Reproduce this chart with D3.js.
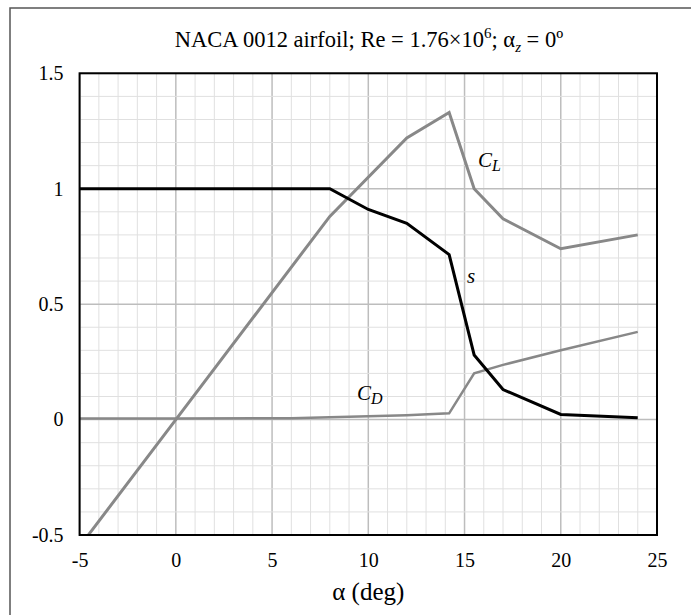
<!DOCTYPE html>
<html>
<head>
<meta charset="utf-8">
<script src="https://cdn.jsdelivr.net/npm/d3@7"></script>
<style>
  html, body { margin: 0; padding: 0; background: #fff; }
  svg { display: block; }
  svg text { font-family: "Liberation Serif", "Times New Roman", serif !important; fill: #000; }
</style>
</head>
<body>
<svg id="chart" width="691" height="615"></svg>
<script>
// Angle of attack (deg) and measured coefficients
const alphaCL = [-5, 0, 8, 12, 14.2, 15.5, 17, 20, 24];
const valuesCL = [-0.55, 0, 0.88, 1.22, 1.33, 1.0, 0.87, 0.74, 0.80];

const alphaCD = [-5, 0, 6, 8, 10, 12, 14.2, 15.5, 17, 20, 24];
const valuesCD = [0.005, 0.005, 0.006, 0.01, 0.014, 0.019, 0.027, 0.2, 0.237, 0.3, 0.38];

const alphaS = [-5, 8, 10, 12, 14.2, 15.5, 17, 20, 24];
const valuesS = [1, 1, 0.91, 0.85, 0.715, 0.28, 0.13, 0.022, 0.008];

const xTicks = [-5, 0, 5, 10, 15, 20, 25];
const yTicks = [-0.5, 0, 0.5, 1, 1.5];

const svg = d3.select("#chart");
const plotL = 79.6, plotR = 657, plotT = 73.3, plotB = 535;
const serif = '"Liberation Serif", "Times New Roman", serif';

const x = d3.scaleLinear().domain([-5, 25]).range([plotL, plotR]);
const y = d3.scaleLinear().domain([-0.5, 1.5]).range([plotB, plotT]);

// outer frame (left and top edges of the figure box)
svg.append("path")
  .attr("d", `M10,615 L10,8 L691,8`)
  .attr("fill", "none").attr("stroke", "#555").attr("stroke-width", 1.5);

// title
const title = svg.append("text")
  .attr("x", 369).attr("y", 47)
  .attr("text-anchor", "middle")
  .style("font-size", "22.5px");
title.append("tspan").text("NACA 0012 airfoil; Re = 1.76×10");
title.append("tspan").attr("dy", -9).style("font-size", "15px").text("6");
title.append("tspan").attr("dy", 9).text("; α");
title.append("tspan").attr("dy", 5).style("font-size", "15px").style("font-style", "italic").text("z");
title.append("tspan").attr("dy", -5).text(" = 0º");

// grid
const grid = svg.append("g");
d3.range(-5, 26, 1).forEach(v => {
  const major = v % 5 === 0;
  grid.append("line")
    .attr("x1", x(v)).attr("x2", x(v)).attr("y1", plotT).attr("y2", plotB)
    .attr("stroke", major ? "#bdbdbd" : "#e0e0e0").attr("stroke-width", major ? 1.5 : 1);
});
d3.range(-5, 16, 1).forEach(k => {
  const v = k / 10;
  const major = k % 5 === 0;
  grid.append("line")
    .attr("x1", plotL).attr("x2", plotR).attr("y1", y(v)).attr("y2", y(v))
    .attr("stroke", major ? "#bdbdbd" : "#e0e0e0").attr("stroke-width", major ? 1.5 : 1);
});

// axes
const xAxis = d3.axisBottom(x).tickValues(xTicks).tickSize(0).tickPadding(18).tickFormat(d => String(d));
const yAxis = d3.axisLeft(y).tickValues(yTicks).tickSize(0).tickPadding(16).tickFormat(d => String(d));

const gx = svg.append("g").attr("transform", `translate(0,${plotB})`).call(xAxis);
gx.select(".domain").remove();
gx.attr("font-family", serif);
gx.selectAll("text").style("font-size", "20px").style("font-family", serif);

const gy = svg.append("g").attr("transform", `translate(${plotL},0)`).call(yAxis);
gy.select(".domain").remove();
gy.attr("font-family", serif);
gy.selectAll("text").style("font-size", "20px").style("font-family", serif);

// axis title
svg.append("text")
  .attr("x", (plotL + plotR) / 2).attr("y", 600)
  .attr("text-anchor", "middle").style("font-size", "25px")
  .text("α (deg)");

// clip for data lines
svg.append("clipPath").attr("id", "plotclip")
  .append("rect").attr("x", plotL).attr("y", plotT).attr("width", plotR - plotL).attr("height", plotB - plotT);

const line = d3.line().x(d => x(d[0])).y(d => y(d[1]));
const series = [
  { a: alphaCL, v: valuesCL, color: "#888", w: 3 },
  { a: alphaCD, v: valuesCD, color: "#888", w: 2.5 },
  { a: alphaS, v: valuesS, color: "#000", w: 3 }
];
const gl = svg.append("g").attr("clip-path", "url(#plotclip)");
series.forEach(s => {
  gl.append("path")
    .datum(s.a.map((a, i) => [a, s.v[i]]))
    .attr("d", line)
    .attr("fill", "none")
    .attr("stroke", s.color)
    .attr("stroke-width", s.w)
    .attr("stroke-linejoin", "miter");
});

// plot border
svg.append("rect")
  .attr("x", plotL).attr("y", plotT).attr("width", plotR - plotL).attr("height", plotB - plotT)
  .attr("fill", "none").attr("stroke", "#000").attr("stroke-width", 2);

// curve labels
function coefLabel(px, py, main, sub) {
  const t = svg.append("text").attr("x", px).attr("y", py)
    .style("font-size", "21px").style("font-style", "italic");
  t.append("tspan").text(main);
  if (sub) t.append("tspan").attr("dy", 4).style("font-size", "16px").text(sub);
}
coefLabel(478, 167, "C", "L");
coefLabel(357, 400, "C", "D");
coefLabel(467, 283, "s", null);
</script>
</body>
</html>
